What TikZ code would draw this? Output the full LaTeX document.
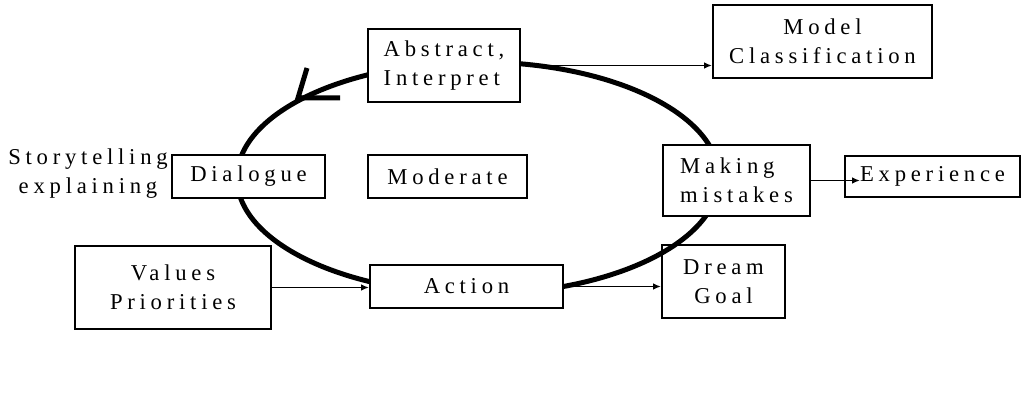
\documentclass[tikz,border=0pt]{standalone}
\usepackage{fontspec}
\setmainfont{Liberation Serif}[LetterSpace=21]
\usepackage{tikz}
\usetikzlibrary{arrows.meta}
\tikzset{
    box/.style={draw, line width=1.5pt, fill=white, inner sep=0pt, align=center,
        font=\fontsize{17}{21.75}\selectfont},
    plain/.style={inner sep=0pt, align=center, font=\fontsize{17}{21.75}\selectfont},
    thinarrow/.style={line width=1.4pt, -{Latex[length=6pt,width=5pt]}},
    loopline/.style={line width=3.75pt},
}

\begin{document}
\begin{tikzpicture}[x=0.75pt,y=-0.75pt]
\useasboundingbox (0,0) rectangle (1024,406);
\draw[loopline] (478,178) ellipse [x radius=180.75pt, y radius=87pt];
\draw[loopline] (307,68) -- (298,98) -- (340,98);

\node[box, minimum width=114pt, minimum height=54.75pt, align=left] (abstr) at (444,65.5) {Abstract,\\Interpret};
\node[box, minimum width=164.25pt, minimum height=54.75pt] (model) at (822.5,41.5) {Model\\Classification};
\node[box, minimum width=114.75pt, minimum height=32.25pt] (dial) at (248.5,176.5) {Dialogue};
\node[box, minimum width=119.25pt, minimum height=32.25pt] (moder) at (447.5,176.5) {Moderate};
\node[box, minimum width=110.25pt, minimum height=53.25pt, align=left] (mist) at (736.5,180.5) {Making\\mistakes};
\node[box, minimum width=131.25pt, minimum height=30.75pt] (exper) at (932.5,176.5) {Experience};
\node[box, minimum width=147pt, minimum height=62.25pt] (values) at (173,287.5) {Values\\Priorities};
\node[box, minimum width=144.75pt, minimum height=32.25pt] (action) at (466.5,286.5) {Action};
\node[box, fill=none, minimum width=92.25pt, minimum height=54.75pt] (dream) at (723.5,281.5) {Dream\\Goal};
\node[plain] (story) at (88,174) {Storytelling\\explaining};

\draw[thinarrow] (abstr.east) -- (abstr.east -| model.west);
\draw[thinarrow, shorten >=-12pt] (mist.east) -- (mist.east -| exper.west);
\draw[thinarrow] (values.east) -- (values.east -| action.west);
\draw[thinarrow] (action.east) -- (action.east -| dream.west);
\end{tikzpicture}
\end{document}
